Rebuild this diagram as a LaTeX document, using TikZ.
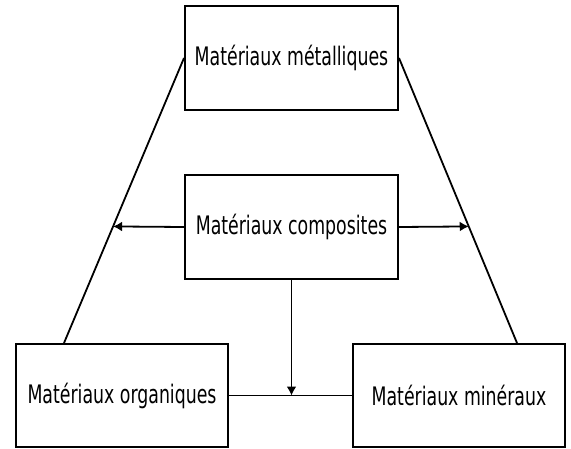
\documentclass[tikz,border=0pt]{standalone}
\usepackage{fontspec}
\setmainfont[FakeStretch=0.68]{DejaVu Sans}
\usetikzlibrary{arrows.meta,calc}
\begin{document}
\begin{tikzpicture}[x=1pt,y=-1pt,
  box/.style={draw,line width=2pt,minimum width=213pt,minimum height=104pt,inner sep=0pt,font=\fontsize{25.5}{30}\selectfont},
  conn/.style={line width=1.8pt},
  arr/.style={conn,-{Latex[length=9pt,width=10pt]}}]
\useasboundingbox (0,0) rectangle (571,448);
\node[box] (met) at (291.5,58) {Matériaux métalliques};
\node[box] (com) at (291.5,227) {Matériaux composites};
\node[box,minimum width=212pt,minimum height=103pt] (org) at (122,395.5) {Matériaux organiques};
\node[box,minimum width=212pt,minimum height=103pt] (min) at (459,395.5) {Matériaux minéraux};
\coordinate (ot) at ($(org.north west)+(49,0)$);
\coordinate (mt) at ($(min.north west)+(165,0)$);
\draw[conn] (met.west) -- (ot);
\draw[conn] (met.east) -- (mt);
\coordinate (lt) at ($(met.west)!0.591!(ot)$);
\coordinate (rt) at ($(met.east)!0.591!(mt)$);
\draw[arr] (com.west) -- (lt);
\draw[arr] (com.east) -- (rt);
\draw[conn] (org.east) -- (min.west);
\draw[arr] (com.south) -- (com.south |- org.east);
\end{tikzpicture}
\end{document}
